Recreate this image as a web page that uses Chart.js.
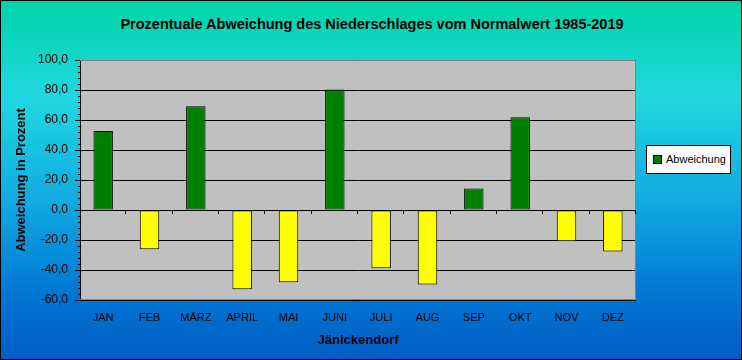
<!DOCTYPE html>
<html>
<head>
<meta charset="utf-8">
<script src="https://cdn.jsdelivr.net/npm/chart.js@4"></script>
<style>
  html, body { margin: 0; padding: 0; }
  body { width: 742px; height: 360px; overflow: hidden; font-family: "Liberation Sans", Arial, sans-serif; }
  #wrap {
    position: relative; width: 740px; height: 358px; border: 1px solid #000;
    background: linear-gradient(to bottom, rgb(0,212,168) 0%, rgb(32,216,224) 27%, rgb(16,168,224) 57%, rgb(0,118,212) 82%, rgb(0,92,196) 100%);
  }
  #title { position: absolute; left: 0; top: 15px; width: 742px; text-align: center; font-weight: bold; font-size: 14.5px; }
  #legend {
    position: absolute; left: 645px; top: 144px; width: 83px; height: 27px;
    background: #fff; border: 1px solid #000; font-size: 11px; line-height: 27px;
  }
  #legend span.sw { display: inline-block; width: 7px; height: 7px; background: #008000; border: 1px solid #000; margin: 0 4px 0 6px; vertical-align: -1px; }
  canvas { position: absolute; left: -1px; top: -1px; }
</style>
</head>
<body>
<div id="wrap">
  <div id="title">Prozentuale Abweichung des Niederschlages vom Normalwert 1985-2019</div>
  <canvas id="chart" width="742" height="360"></canvas>
  <div id="legend"><span class="sw"></span>Abweichung</div>
</div>
<script>
const months = ["JAN", "FEB", "MÄRZ", "APRIL", "MAI", "JUNI", "JULI", "AUG", "SEP", "OKT", "NOV", "DEZ"];
const abweichung = [52.7, -26.2, 69.1, -52.9, -48.2, 80.4, -38.9, -49.6, 14.4, 61.8, -20.9, -27.6];
const yMin = -60;
const yMax = 100;
const yStep = 20;

const barColors = abweichung.map(v => v >= 0 ? "#008000" : "#FFFF00");

// grauer Hintergrund, Rahmen, kleine Striche
const plotDecor = {
  id: "plotDecor",
  beforeDraw(chart) {
    const { ctx, chartArea: a } = chart;
    ctx.save();
    ctx.fillStyle = "#C0C0C0";
    ctx.fillRect(a.left, a.top, a.right - a.left, a.bottom - a.top);
    ctx.restore();
  },
  afterDraw(chart) {
    const { ctx, chartArea: a, scales } = chart;
    ctx.save();
    ctx.strokeStyle = "#808080";
    ctx.lineWidth = 1;
    ctx.beginPath();
    ctx.moveTo(a.left, a.top + 0.5);
    ctx.lineTo(a.right - 0.5, a.top + 0.5);
    ctx.lineTo(a.right - 0.5, a.bottom - 0.5);
    ctx.lineTo(a.left, a.bottom - 0.5);
    ctx.stroke();
    // Nebenstriche an der y-Achse
    ctx.strokeStyle = "#000";
    ctx.beginPath();
    for (let v = yMin; v <= yMax; v += 4) {
      if (v % yStep === 0) continue;
      const y = Math.round(scales.y.getPixelForValue(v)) + 0.5;
      ctx.moveTo(a.left - 2, y);
      ctx.lineTo(a.left, y);
    }
    // Striche an der Nulllinie zwischen den Kategorien
    const y0 = Math.round(scales.y.getPixelForValue(0));
    const w = (a.right - a.left) / months.length;
    for (let i = 1; i <= months.length; i++) {
      const x = Math.round(a.left + i * w) - 0.5;
      ctx.moveTo(x, y0);
      ctx.lineTo(x, y0 + 4);
    }
    ctx.stroke();
    ctx.restore();
  }
};

new Chart(document.getElementById("chart"), {
  type: "bar",
  data: {
    labels: months,
    datasets: [{
      label: "Abweichung",
      data: abweichung,
      backgroundColor: barColors,
      borderColor: "#000",
      borderWidth: 1,
      borderSkipped: false,
      barPercentage: 0.42,
      categoryPercentage: 1
    }]
  },
  options: {
    responsive: false,
    animation: false,
    layout: { padding: { top: 60, right: 106, bottom: 0, left: 0 } },
    plugins: {
      legend: { display: false },
      title: { display: false },
      tooltip: { enabled: false }
    },
    scales: {
      x: {
        grid: { display: false, drawTicks: false },
        border: { display: false },
        ticks: { color: "#000", font: { family: "Liberation Sans", size: 11 }, padding: 11, maxRotation: 0 },
        title: { display: true, text: "Jänickendorf", color: "#000", font: { family: "Liberation Sans", size: 13, weight: "bold" }, padding: { top: 0, bottom: 12 } },
        afterFit(scale) { scale.height = 60; }
      },
      y: {
        min: yMin,
        max: yMax,
        ticks: {
          stepSize: yStep,
          color: "#000",
          font: { family: "Liberation Sans", size: 12 },
          padding: 7,
          callback: v => v.toFixed(1).replace(".", ",")
        },
        grid: { color: "#000", lineWidth: 1, tickLength: 5, drawTicks: true },
        border: { display: true, color: "#000", width: 1 },
        title: { display: true, text: "Abweichung in Prozent", color: "#000", font: { family: "Liberation Sans", size: 13, weight: "bold" }, padding: { top: 14, bottom: 0 } },
        afterFit(scale) { scale.width = 80; }
      }
    }
  },
  plugins: [plotDecor]
});
</script>
</body>
</html>
